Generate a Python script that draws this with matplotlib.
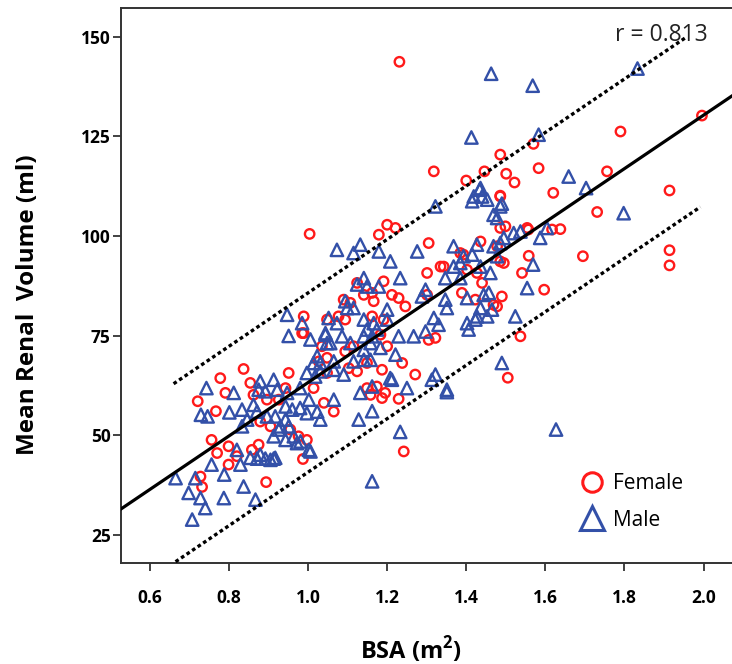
import numpy as np
import matplotlib
matplotlib.use("Agg")
import matplotlib.pyplot as plt
from matplotlib.lines import Line2D

plt.rcParams['font.family'] = ['Open Sans', 'DejaVu Sans']

# BSA (m^2) and mean renal volume (ml), female subjects
female_bsa = [
    1.231, 1.996, 1.790, 1.570, 1.486, 1.318, 1.400, 1.446, 1.501, 1.522,
    1.583, 1.756, 1.914, 1.620, 1.486, 1.731, 1.914, 1.914, 1.695, 1.558,
    1.597, 1.537, 1.617, 1.638, 1.557, 1.505, 1.242, 1.187, 1.229, 0.721,
    0.767, 0.791, 0.756, 0.770, 0.728, 0.732, 0.799, 0.894, 0.987, 0.997,
    0.837, 0.778, 0.854, 0.862, 0.951, 0.943, 0.896, 0.879, 0.905, 0.926,
    0.875, 0.858, 0.799, 0.820, 0.989, 1.027, 1.048, 1.014, 1.040, 1.065,
    0.976, 0.955, 1.179, 1.200, 1.221, 1.305, 1.436, 1.385, 1.301, 1.335,
    1.402, 1.440, 1.124, 1.191, 1.141, 1.162, 1.166, 1.212, 1.229, 1.246,
    1.301, 1.389, 1.423, 1.469, 1.322, 1.305, 1.238, 1.271, 1.187, 1.149,
    1.103, 1.124, 1.048, 1.174, 1.149, 1.195, 1.048, 1.077, 1.094, 1.107,
    1.090, 1.162, 1.191, 1.183, 1.035, 1.094, 1.115, 1.486, 1.486, 1.554,
    1.478, 1.393, 1.495, 1.343, 1.427, 1.541, 1.499, 1.486, 1.490, 1.478,
    1.004, 0.989, 0.985, 1.158, 1.200,
]
female_vol = [
    143.7, 130.2, 126.2, 123.1, 120.4, 116.2, 113.9, 116.2, 115.6, 113.4,
    117.0, 116.2, 111.4, 110.8, 110.1, 106.0, 96.4, 92.6, 94.9, 95.0,
    86.5, 74.8, 101.6, 101.7, 101.6, 64.4, 45.9, 59.3, 59.1, 58.5,
    56.0, 60.6, 48.8, 45.5, 39.6, 37.0, 42.6, 38.2, 44.0, 48.8,
    66.6, 64.3, 63.1, 60.1, 65.6, 61.8, 58.9, 53.4, 52.2, 58.9,
    47.6, 46.3, 47.2, 44.7, 75.6, 68.5, 65.6, 61.8, 58.1, 55.9,
    49.7, 51.4, 100.3, 102.8, 102.0, 98.2, 98.6, 95.7, 90.7, 92.3,
    91.5, 88.2, 88.2, 88.6, 85.2, 85.7, 83.6, 85.2, 84.4, 82.3,
    85.2, 85.7, 84.0, 82.7, 74.4, 73.9, 68.1, 65.2, 66.4, 68.1,
    66.8, 66.0, 69.4, 62.2, 61.8, 60.6, 79.0, 79.8, 79.0, 83.2,
    84.0, 79.8, 79.0, 75.2, 72.3, 71.0, 72.3, 109.9, 102.0, 102.0,
    97.4, 95.3, 93.2, 92.3, 90.7, 90.7, 102.4, 93.6, 84.8, 82.3,
    100.5, 79.8, 75.6, 60.1, 72.3,
]

# male subjects
male_bsa = [
    1.463, 1.568, 1.833, 1.413, 1.583, 1.659, 1.703, 1.434, 1.798, 1.569,
    1.554, 1.587, 1.537, 1.627, 1.233, 1.162, 1.351, 1.250, 1.162, 1.162,
    0.743, 0.729, 0.746, 0.801, 0.812, 0.756, 0.665, 0.715, 0.698, 0.728,
    0.740, 0.707, 0.787, 0.788, 0.837, 0.867, 0.829, 0.871, 0.892, 0.913,
    1.002, 0.981, 1.128, 0.879, 0.875, 0.892, 0.913, 0.947, 0.922, 0.833,
    0.862, 0.871, 0.846, 0.833, 0.896, 0.917, 0.930, 0.951, 0.960, 0.943,
    0.913, 0.943, 0.964, 0.879, 0.905, 0.917, 0.854, 0.820, 0.951, 1.006,
    1.044, 1.048, 1.014, 1.065, 0.997, 1.018, 0.980, 1.002, 1.065, 1.023,
    0.997, 0.980, 1.031, 0.943, 0.926, 0.972, 1.006, 1.073, 1.132, 1.115,
    1.179, 1.276, 1.368, 1.427, 1.469, 1.208, 1.368, 1.393, 1.347, 1.385,
    1.436, 1.461, 1.233, 1.141, 1.124, 1.149, 1.179, 1.200, 1.297, 1.288,
    1.347, 1.351, 1.402, 1.444, 1.436, 1.453, 1.423, 1.406, 1.318, 1.330,
    1.297, 1.267, 1.229, 1.221, 1.322, 1.351, 1.208, 1.158, 1.141, 1.115,
    1.090, 1.031, 1.065, 1.132, 1.073, 1.099, 1.115, 1.094, 1.141, 1.149,
    1.166, 1.174, 1.200, 1.141, 1.162, 1.044, 1.056, 1.086, 1.107, 1.158,
    1.141, 1.183, 1.436, 1.419, 1.440, 1.453, 1.490, 1.469, 1.478, 1.604,
    1.495, 1.486, 1.415, 1.478, 1.385, 1.322, 1.486, 1.520, 1.457, 1.465,
    1.524, 1.490, 1.402, 1.427, 0.947, 0.985, 1.023, 1.052, 1.031, 1.212,
    1.313, 1.415,
]
male_vol = [
    140.7, 137.7, 142.0, 124.7, 125.4, 114.9, 112.0, 111.6, 105.7, 92.8,
    86.9, 99.5, 101.1, 51.4, 50.8, 38.4, 60.8, 61.8, 56.0, 62.2,
    61.8, 55.1, 54.7, 55.7, 60.6, 42.6, 39.2, 39.2, 35.5, 34.2,
    31.7, 28.8, 34.2, 40.1, 37.1, 33.8, 42.6, 44.1, 44.1, 44.1,
    46.3, 48.4, 53.9, 63.5, 61.4, 61.0, 63.9, 60.6, 61.4, 56.4,
    57.6, 55.9, 53.9, 52.2, 54.7, 54.7, 52.2, 52.2, 56.4, 57.2,
    49.7, 48.8, 49.7, 45.1, 43.8, 44.3, 44.3, 46.3, 74.9, 74.0,
    75.2, 73.1, 68.1, 68.5, 65.6, 64.7, 61.8, 58.9, 58.9, 55.9,
    55.5, 56.8, 53.9, 53.9, 51.4, 48.0, 45.9, 96.5, 97.8, 95.7,
    96.1, 96.1, 97.4, 97.8, 97.4, 93.6, 92.3, 94.9, 89.4, 89.4,
    92.3, 90.7, 89.4, 89.4, 87.8, 87.3, 87.3, 81.5, 86.5, 84.8,
    84.0, 81.9, 84.4, 85.2, 81.9, 79.8, 79.0, 76.5, 79.4, 77.7,
    76.0, 74.8, 74.8, 70.2, 65.2, 61.4, 64.3, 68.9, 68.9, 68.5,
    65.2, 66.0, 66.4, 60.6, 78.1, 81.9, 81.9, 83.6, 79.0, 76.5,
    78.1, 76.5, 79.0, 74.8, 74.8, 75.6, 73.1, 74.8, 73.1, 73.1,
    71.4, 71.9, 112.0, 109.9, 109.9, 109.1, 108.1, 105.3, 104.5, 102.0,
    99.5, 98.2, 95.3, 94.9, 93.2, 107.4, 107.4, 100.7, 85.7, 81.5,
    79.8, 68.1, 78.1, 79.8, 80.2, 78.1, 69.8, 79.4, 68.1, 63.9,
    63.9, 108.7,
]

# fitted line and prediction band
fit_slope = 67.1
fit_intercept = -3.9
band_half = 22.5
r_value = 0.813

red = '#ff1a1a'
blue = '#3350a8'

fig = plt.figure(figsize=(7.32, 6.64), dpi=100)
ax = fig.add_axes([121 / 732, 101 / 664, 611 / 732, 555 / 664])

ax.scatter(female_bsa, female_vol, s=46, facecolors='none', edgecolors=red,
           linewidths=1.7, marker='o', zorder=3)
ax.scatter(male_bsa, male_vol, s=80, facecolors='none', edgecolors=blue,
           linewidths=1.7, marker='^', zorder=3)

xs = np.array([0.50, 2.10])
ax.plot(xs, fit_slope * xs + fit_intercept, color='black', lw=2.3, zorder=4)
xu = np.array([0.66, 1.958])
ax.plot(xu, fit_slope * xu + fit_intercept + band_half, color='black', lw=2.4,
        dashes=(1.1, 0.9), zorder=4)
xl = np.array([0.665, 1.992])
ax.plot(xl, fit_slope * xl + fit_intercept - band_half, color='black', lw=2.4,
        dashes=(1.1, 0.9), zorder=4)

ax.text(1.775, 150.3, f"r = {r_value}", fontsize=16.5, va='center', ha='left',
        color='#222222')

ax.set_xlim(0.527, 2.072)
ax.set_ylim(17.9, 157.2)
ax.set_xticks(np.arange(0.6, 2.01, 0.2))
ax.set_xticklabels([f"{v:.1f}" for v in np.arange(0.6, 2.01, 0.2)])
ax.set_yticks([25, 50, 75, 100, 125, 150])

for lab in ax.get_xticklabels() + ax.get_yticklabels():
    lab.set_fontweight('bold')
    lab.set_fontsize(12.5)
ax.tick_params(axis='both', direction='out', length=5.5, width=1.3,
               color='#333333')
ax.tick_params(axis='x', pad=13)
ax.tick_params(axis='y', pad=2)

ax.spines['right'].set_visible(False)
for side in ['left', 'bottom', 'top']:
    ax.spines[side].set_linewidth(1.4)
    ax.spines[side].set_color('#333333')

ax.set_xlabel('BSA (m$^\\mathregular{2}$)', fontsize=17, fontweight='bold')
ax.set_ylabel('Mean Renal  Volume (ml)', fontsize=17.5, fontweight='bold')
ax.xaxis.set_label_coords(0.475, -0.128)
ax.yaxis.set_label_coords(-0.133, 0.465)

handles = [
    Line2D([], [], ls='none', marker='o', ms=14, mfc='none', mec=red, mew=2.2),
    Line2D([], [], ls='none', marker='^', ms=17, mfc='none', mec=blue, mew=2.2),
]
ax.legend(handles, ['Female', 'Male'], loc='upper left', frameon=False,
          fontsize=15, handlelength=1.2, handletextpad=0.4, labelspacing=0.75,
          borderpad=0, borderaxespad=0, bbox_to_anchor=(0.751, 0.162))

fig.savefig('out.png', dpi=100)
